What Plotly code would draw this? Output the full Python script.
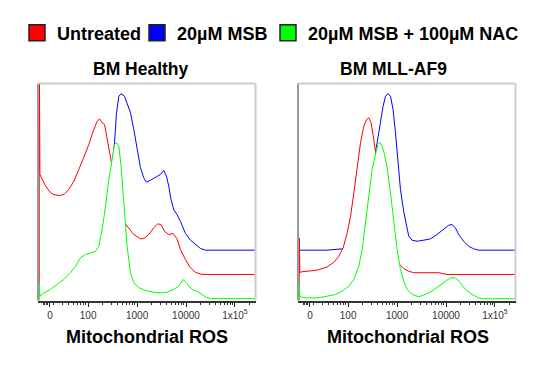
import math
import plotly.graph_objects as go

# ---------------- data (x: log10 fluorescence, y: % of max, offset histograms) -------------
healthy_red_x = [1.0, 1.0, 1.014, 1.061, 1.131, 1.233, 1.30, 1.402, 1.504, 1.606, 1.708, 1.810, 1.912, 2.014,
                 2.102, 2.184, 2.233, 2.286, 2.335, 2.388, 2.457, 2.490, 2.565, 2.647, 2.743, 2.851, 2.933,
                 3.069, 3.137, 3.239, 3.341, 3.422, 3.490, 3.559, 3.647, 3.735, 3.816, 3.886, 3.988, 4.090,
                 4.192, 4.327, 5.45]
healthy_red_y = [0, 130, 58.1, 55.8, 52.7, 49.6, 48.8, 48.4, 48.8, 51.2, 55.0, 60.4, 65.9, 71.9, 78.0, 82.6,
                 83.7, 81.9, 81.1, 75.1, 66.5, 61.9, 51.2, 41.9, 35.8, 32.7, 30.4, 28.4, 28.6, 30.4, 33.5,
                 35.3, 35.0, 31.9, 30.4, 30.9, 28.4, 23.5, 18.9, 15.1, 13.0, 12.0, 12.0]

healthy_blue_x = [1.0, 1.422, 1.831, 2.239, 2.402, 2.484, 2.539, 2.580, 2.627, 2.673, 2.743, 2.796, 2.865,
                  2.933, 3.0, 3.069, 3.137, 3.192, 3.273, 3.376, 3.478, 3.545, 3.6, 3.647, 3.694, 3.749,
                  3.816, 3.886, 3.988, 4.090, 4.192, 4.294, 4.396, 5.45]
healthy_blue_y = [23.2, 28.1, 37.3, 51.2, 55.8, 61.3, 72.7, 86.5, 94.1, 95.3, 94.1, 91.1, 86.5, 78.8, 69.6,
                  61.2, 56.5, 54.5, 55.4, 56.8, 58.1, 60.0, 57.3, 52.7, 46.5, 41.9, 39.6, 36.5, 30.9, 27.8,
                  25.8, 24.0, 23.2, 23.2]

healthy_green_x = [1.0, 1.0, 1.014, 1.096, 1.233, 1.367, 1.504, 1.641, 1.743, 1.845, 1.947, 2.049, 2.151,
                   2.218, 2.286, 2.355, 2.422, 2.490, 2.539, 2.580, 2.627, 2.673, 2.729, 2.796, 2.865, 2.933,
                   3.035, 3.171, 3.341, 3.478, 3.612, 3.749, 3.851, 3.939, 4.020, 4.122, 4.259, 4.396, 4.498,
                   5.45]
healthy_green_y = [0, 8.2, 2.0, 3.5, 5.1, 7.4, 9.7, 12.8, 15.8, 19.7, 21.2, 22.0, 22.7, 25.0, 32.7, 43.5,
                   55.8, 65.0, 71.9, 72.7, 71.1, 61.9, 46.5, 25.0, 12.8, 8.2, 5.9, 4.7, 3.8, 3.5, 3.8, 5.1,
                   6.6, 9.7, 7.8, 5.1, 3.8, 1.7, 0.9, 0.8]

af9_red_x = [1.0, 1.0, 1.014, 1.041, 1.367, 1.571, 1.708, 1.810, 1.898, 1.980, 2.049, 2.116, 2.184, 2.253,
             2.320, 2.376, 2.422, 2.469, 2.524, 2.559, 2.647, 2.749, 2.851, 2.953, 3.055, 3.137, 3.239, 3.341,
             3.545, 3.749, 3.851, 4.020, 5.45]
af9_red_y = [0, 28.9, 12.8, 13.2, 14.0, 15.5, 17.6, 20.4, 24.3, 31.2, 38.8, 49.6, 61.9, 72.7, 80.3, 83.4,
             84.2, 81.9, 74.2, 68.1, 53.5, 39.6, 28.1, 21.2, 16.6, 14.7, 13.5, 12.8, 12.8, 13.0, 12.8, 12.0,
             12.0]

af9_blue_x = [1.0, 1.571, 1.878, 1.973, 2.076, 2.198, 2.320, 2.443, 2.524, 2.592, 2.661, 2.714, 2.763, 2.816,
              2.865, 2.918, 2.967, 3.014, 3.069, 3.137, 3.192, 3.239, 3.306, 3.408, 3.545, 3.682, 3.816, 3.953,
              4.055, 4.122, 4.192, 4.259, 4.361, 4.463, 4.565, 4.667, 5.45]
af9_blue_y = [23.2, 23.2, 23.8, 25.8, 30.4, 39.6, 48.8, 58.1, 64.1, 72.7, 83.4, 89.5, 94.1, 95.4, 94.1, 88.0,
              77.3, 65.0, 51.2, 40.8, 34.2, 29.6, 27.8, 27.3, 27.8, 28.4, 30.4, 33.0, 34.7, 35.0, 33.5, 30.4,
              27.3, 25.0, 23.8, 23.2, 23.2]

af9_green_x = [1.0, 1.0, 1.014, 1.163, 1.367, 1.571, 1.743, 1.878, 2.014, 2.116, 2.218, 2.286, 2.355, 2.422,
               2.490, 2.559, 2.606, 2.647, 2.694, 2.743, 2.796, 2.865, 2.933, 3.0, 3.069, 3.137, 3.204, 3.306,
               3.443, 3.580, 3.714, 3.851, 3.988, 4.090, 4.192, 4.294, 4.396, 4.531, 4.667, 4.769, 5.45]
af9_green_y = [0, 8.3, 1.7, 1.2, 1.2, 2.0, 2.8, 4.3, 6.6, 9.7, 15.8, 23.5, 35.8, 49.6, 60.4, 67.3, 71.9,
               72.9, 71.1, 67.3, 61.2, 49.6, 35.8, 23.5, 14.3, 8.8, 5.1, 2.8, 1.7, 2.8, 4.3, 6.6, 9.2, 10.5,
               10.5, 8.2, 5.1, 2.8, 1.2, 0.8, 0.8]

series_names = ["Untreated", "20µM MSB", "20µM MSB + 100µM NAC"]
panel_titles = ["BM Healthy", "BM MLL-AF9"]
x_title = "Mitochondrial ROS"
tick_vals = [1.22, 2, 3, 4, 5]
tick_text = ["0", "100", "1000", "10000", "1x10<sup>5</sup>"]

# ---------------- styling ----------------
FONT = "Liberation Sans, Arial, Helvetica, sans-serif"
RED, BLUE, GREEN = "#ff0000", "#0000ff", "#00ff00"
W, H = 550, 372
XR = [0.975, 5.42]

minor_vals = [d + math.log10(k) for d in range(1, 6) for k in range(2, 10)]
minor_vals = [v for v in minor_vals if XR[0] < v < XR[1]] + [1.08, 1.11, 1.14, 1.17]

fig = go.Figure()

panels = [
    ("x", "y", [(healthy_blue_x, healthy_blue_y, BLUE),
                (healthy_red_x, healthy_red_y, RED),
                (healthy_green_x, healthy_green_y, GREEN)]),
    ("x2", "y2", [(af9_blue_x, af9_blue_y, BLUE),
                  (af9_red_x, af9_red_y, RED),
                  (af9_green_x, af9_green_y, GREEN)]),
]
for xa, ya, curves in panels:
    for xs, ys, col in curves:
        fig.add_trace(go.Scatter(x=xs, y=ys, mode="lines", xaxis=xa, yaxis=ya,
                                 line=dict(color=col, width=1), fill="tozeroy",
                                 fillcolor="white", showlegend=False, hoverinfo="skip"))

# legend entries, one legend per entry so each can be placed like the reference
legend_ids = ["legend", "legend2", "legend3"]
legend_left_px = [17, 137, 268]
for name, col, lid in zip(series_names, [RED, BLUE, GREEN], legend_ids):
    fig.add_trace(go.Scatter(x=[None], y=[None], mode="markers", name=name, legend=lid,
                             marker=dict(symbol="square", size=16, color=col,
                                         line=dict(color="#222", width=1.5))))

legend_style = dict(orientation="h", xanchor="left", y=1 - 33 / H, yanchor="middle",
                    font=dict(family=FONT, size=18, color="black", weight="bold"),
                    bgcolor="rgba(0,0,0,0)", borderwidth=0, itemclick=False, itemdoubleclick=False)

xdom = [[38 / W, 255.5 / W], [298 / W, 515.5 / W]]
ydom = [(H - 300.5) / H, (H - 83.5) / H]

axis_common = dict(range=XR, showgrid=False, zeroline=False, showline=True, linecolor="#333",
                   linewidth=2, ticks="outside", ticklen=4, tickwidth=1, tickcolor="#222",
                   tickvals=tick_vals, ticktext=tick_text,
                   tickfont=dict(family=FONT, size=10, color="#333"),
                   minor=dict(tickvals=minor_vals, ticks="outside", ticklen=2, tickwidth=1,
                              tickcolor="#333"),
                   fixedrange=True)
yaxis_common = dict(range=[0, 100], showgrid=False, zeroline=False, showline=False,
                    showticklabels=False, ticks="", domain=ydom, fixedrange=True)

fig.update_layout(
    width=W, height=H, margin=dict(l=0, r=0, t=0, b=0),
    paper_bgcolor="white", plot_bgcolor="white",
    xaxis=dict(domain=xdom[0], anchor="y", **axis_common),
    xaxis2=dict(domain=xdom[1], anchor="y2", **axis_common),
    yaxis=dict(anchor="x", **yaxis_common),
    yaxis2=dict(anchor="x2", **yaxis_common),
    showlegend=True,
    legend=dict(x=legend_left_px[0] / W, **legend_style),
    legend2=dict(x=legend_left_px[1] / W, **legend_style),
    legend3=dict(x=legend_left_px[2] / W, **legend_style),
)

# frame lines (left grey, top & right light grey)
for xr, yr in [("x domain", "y domain"), ("x2 domain", "y2 domain")]:
    fig.add_shape(type="line", xref=xr, yref=yr, x0=0, x1=0, y0=0, y1=1,
                  line=dict(color="#999", width=2))
    fig.add_shape(type="line", xref=xr, yref=yr, x0=0, x1=1, y0=1, y1=1,
                  line=dict(color="#ccc", width=2))
    fig.add_shape(type="line", xref=xr, yref=yr, x0=1, x1=1, y0=0, y1=1,
                  line=dict(color="#ccc", width=2))

# panel titles and axis titles
for title, cx in zip(panel_titles, [141.3, 393.3]):
    fig.add_annotation(text=title, x=cx / W, y=1 - 69 / H, xref="paper", yref="paper",
                       xanchor="center", yanchor="middle", showarrow=False,
                       font=dict(family=FONT, size=17.5, color="black", weight="bold"))
for cx in [146.7, 407.5]:
    fig.add_annotation(text=x_title, x=cx / W, y=1 - 337 / H, xref="paper", yref="paper",
                       xanchor="center", yanchor="middle", showarrow=False,
                       font=dict(family=FONT, size=18, color="black", weight="bold"))

fig.write_html("out.html", config={"displayModeBar": False},
               post_script="document.body.style.margin='0';")
